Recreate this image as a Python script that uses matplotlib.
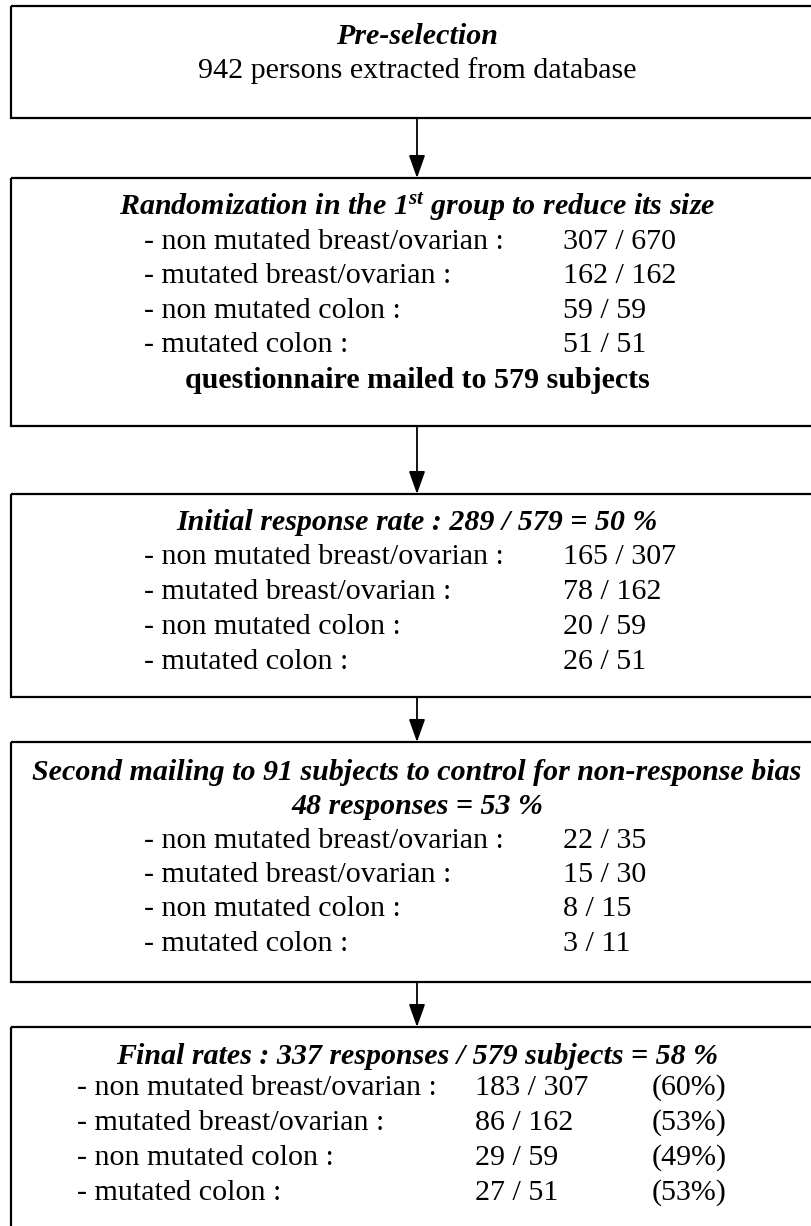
import matplotlib
matplotlib.use("Agg")
import matplotlib.pyplot as plt
from matplotlib.patches import Rectangle

plt.rcParams['font.family'] = ['Liberation Serif', 'DejaVu Serif']
plt.rcParams['mathtext.fontset'] = 'custom'
plt.rcParams['mathtext.it'] = 'Liberation Serif:italic:bold'
plt.rcParams['mathtext.rm'] = 'Liberation Serif:italic:bold'

# flowchart content
groups = ['- non mutated breast/ovarian :', '- mutated breast/ovarian :',
          '- non mutated colon :', '- mutated colon :']
rand_vals = ['307 / 670', '162 / 162', '59 / 59', '51 / 51']
initial_vals = ['165 / 307', '78 / 162', '20 / 59', '26 / 51']
second_vals = ['22 / 35', '15 / 30', '8 / 15', '3 / 11']
final_vals = ['183 / 307', '86 / 162', '29 / 59', '27 / 51']
final_pct = ['(60%)', '(53%)', '(49%)', '(53%)']

W, H = 812, 1226
fig = plt.figure(figsize=(W / 100, H / 100), dpi=100)
ax = fig.add_axes([0, 0, 1, 1])
ax.set_xlim(0, W)
ax.set_ylim(H, 0)
ax.axis('off')

fs = 21.6
cx = 417
x_left, x_right = 11, 823
boxes = [(6, 118), (178, 426), (494, 697), (742, 982), (1027, 1240)]

for top, bot in boxes:
    ax.add_patch(Rectangle((x_left, top), x_right - x_left, bot - top,
                           fill=False, ec='black', lw=1.6, clip_on=False))

for (t0, b0), (t1, b1) in zip(boxes[:-1], boxes[1:]):
    ax.annotate('', xy=(cx, t1), xytext=(cx, b0),
                arrowprops=dict(arrowstyle='-|>,head_length=0.7,head_width=0.25',
                                color='black', lw=1.3, mutation_scale=20,
                                shrinkA=0, shrinkB=0))

def title(y, s):
    ax.text(cx, y, s, ha='center', va='center', fontsize=fs,
            fontweight='bold', style='italic')

def rows(ys, vals, xl=144, xv=563):
    for y, g, v in zip(ys, groups, vals):
        ax.text(xl, y, g, ha='left', va='center', fontsize=fs)
        ax.text(xv, y, v, ha='left', va='center', fontsize=fs)

# box 1
title(37, 'Pre-selection')
ax.text(cx, 71, '942 persons extracted from database', ha='center', va='center', fontsize=fs)

# box 2
title(207, r'Randomization in the 1$^{st}$ group to reduce its size')
rows([242, 276, 311, 345], rand_vals)
ax.text(cx, 381, 'questionnaire mailed to 579 subjects', ha='center', va='center',
        fontsize=fs, fontweight='bold')

# box 3
title(523, 'Initial response rate : 289 / 579 = 50 %')
rows([557, 592, 627, 662], initial_vals)

# box 4
title(773, 'Second mailing to 91 subjects to control for non-response bias')
title(807, '48 responses = 53 %')
rows([841, 875, 909, 944], second_vals)

# box 5
title(1057, 'Final rates : 337 responses / 579 subjects = 58 %')
ys5 = [1088, 1123, 1158, 1193]
rows(ys5, final_vals, xl=77, xv=475)
for y, p in zip(ys5, final_pct):
    ax.text(652, y, p, ha='left', va='center', fontsize=fs)

fig.savefig('out.png', dpi=100, facecolor='white')
